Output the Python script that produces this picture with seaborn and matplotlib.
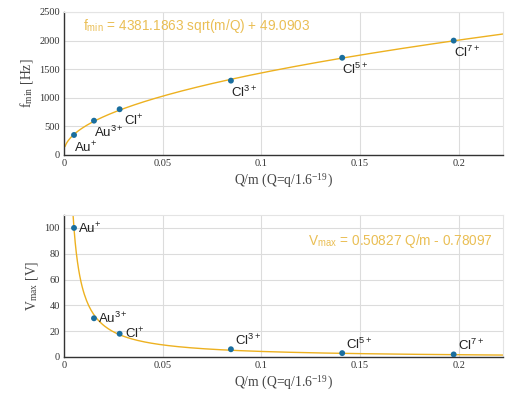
import numpy as np
import pandas as pd
import matplotlib
matplotlib.use('Agg')
import matplotlib.pyplot as plt
import seaborn as sns

# -------------------------------------------------------------
# data
ions = ['Au$^{\\mathregular{+}}$', 'Au$^{\\mathregular{3+}}$', 'Cl$^{\\mathregular{+}}$',
        'Cl$^{\\mathregular{3+}}$', 'Cl$^{\\mathregular{5+}}$', 'Cl$^{\\mathregular{7+}}$']
q_over_m = [0.00508, 0.0152, 0.0282, 0.0846, 0.141, 0.1975]
f_min = [350, 600, 800, 1300, 1700, 2000]
v_max = [100, 30, 18, 6, 3, 2]

# fit coefficients printed on the chart
f_a, f_b = 4381.1863, 49.0903
v_a, v_b = 0.50827, 0.78097

df = pd.DataFrame({'ion': ions, 'qm': q_over_m, 'f': f_min, 'v': v_max})
xfit = np.linspace(0.0005, 0.23, 400)
fit = pd.DataFrame({'qm': xfit,
                    'f': f_a * np.sqrt(xfit) + f_b,
                    'v': v_a / xfit - v_b})

# -------------------------------------------------------------
sns.set_style('whitegrid')
plt.rcParams['font.family'] = ['Liberation Serif', 'DejaVu Serif']
plt.rcParams['mathtext.fontset'] = 'stix'

line_col = '#EDB120'
pt_col = '#1A6E9E'
txt_col = '#EABF55'
sans = ['Liberation Sans', 'DejaVu Sans']

fig = plt.figure(figsize=(5.05, 3.98), dpi=100)
ax1 = fig.add_axes([64/505, 1 - 155/398, 439/505, 143/398])
ax2 = fig.add_axes([64/505, 1 - 357/398, 439/505, 142/398])

for ax in (ax1, ax2):
    ax.grid(True, color='#dcdcdc', linewidth=0.8)
    ax.tick_params(direction='in', length=3, labelsize=7.5, colors='#333333',
                   pad=3)
    for s in ('left', 'bottom'):
        ax.spines[s].set_color('#333333')
        ax.spines[s].set_linewidth(1.0)
    for s in ('top', 'right'):
        ax.spines[s].set_color('#e4e4e4')
        ax.spines[s].set_linewidth(0.8)
    ax.set_xlim(0, 0.2225)
    ax.set_xticks([0, 0.05, 0.1, 0.15, 0.2])
    ax.set_xticklabels(['0', '0.05', '0.1', '0.15', '0.2'])
    ax.set_xlabel('Q/m (Q=q/1.6$^{\\mathregular{-19}}$)', fontsize=9.8,
                  color='#444444', labelpad=3)

# top panel
sns.lineplot(data=fit, x='qm', y='f', ax=ax1, color=line_col, linewidth=1.0)
sns.scatterplot(data=df, x='qm', y='f', ax=ax1, color=pt_col, s=18,
                edgecolor='none', zorder=3)
ax1.set_ylim(0, 2500)
ax1.set_yticks([0, 500, 1000, 1500, 2000, 2500])
ax1.set_ylabel('f$_{\\mathregular{min}}$ [Hz]', fontsize=9.8, color='#444444',
               labelpad=3)
top_off = [(0, -3), (0, -3), (3, -2), (0, -3), (0, -3), (0, -3)]
for (_, r), off in zip(df.iterrows(), top_off):
    ax1.annotate(r['ion'], (r['qm'], r['f']), xytext=off,
                 textcoords='offset points', ha='left', va='top',
                 fontsize=9.5, family=sans, color='#222222')
ax1.text(0.043, 0.9, 'f$_{\\mathregular{min}}$ = %.4f sqrt(m/Q) + %.4f' % (f_a, f_b),
         transform=ax1.transAxes, fontsize=9.8, family=sans, color=txt_col,
         va='center', ha='left')

# bottom panel
sns.lineplot(data=fit, x='qm', y='v', ax=ax2, color=line_col, linewidth=1.0)
sns.scatterplot(data=df, x='qm', y='v', ax=ax2, color=pt_col, s=18,
                edgecolor='none', zorder=3)
ax2.set_ylim(0, 110)
ax2.set_yticks([0, 20, 40, 60, 80, 100])
ax2.set_ylabel('V$_{\\mathregular{max}}$ [V]', fontsize=9.8, color='#444444',
               labelpad=3)
bot_off = [(3, 0, 'center'), (3, 0, 'center'), (4, 1, 'center'),
           (3, 1, 'bottom'), (3, 1, 'bottom'), (3, 1, 'bottom')]
for (_, r), (dx, dy, va) in zip(df.iterrows(), bot_off):
    ax2.annotate(r['ion'], (r['qm'], r['v']), xytext=(dx, dy),
                 textcoords='offset points', ha='left', va=va,
                 fontsize=9.5, family=sans, color='#222222')
ax2.text(0.555, 0.82, 'V$_{\\mathregular{max}}$ = %.5f Q/m - %.5f' % (v_a, v_b),
         transform=ax2.transAxes, fontsize=9.8, family=sans, color=txt_col,
         va='center', ha='left')

fig.savefig('out.png', dpi=100)
